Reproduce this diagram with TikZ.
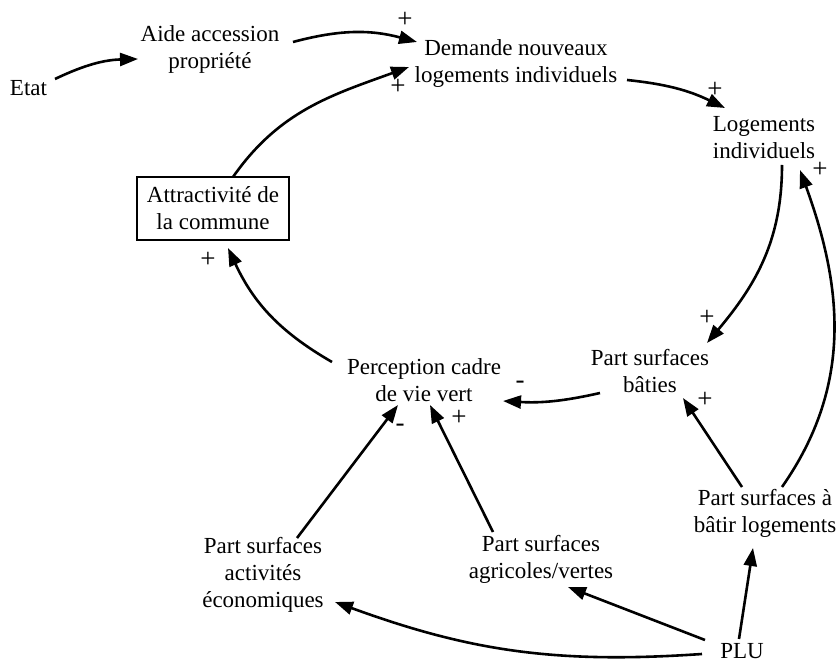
\documentclass[tikz,border=0pt]{standalone}
\usepackage{fontspec}
\setmainfont{Liberation Serif}
\usetikzlibrary{arrows.meta}
\begin{document}
\begin{tikzpicture}[x=1pt,y=1pt,
  lbl/.style={align=center,inner sep=0pt,font=\fontsize{23}{27}\selectfont},
  sgn/.style={inner sep=0pt,font=\fontsize{27}{28}\selectfont},
  link/.style={line width=2.6pt,-{Triangle[length=18pt,width=13pt]}}]
\useasboundingbox (0,0) rectangle (836,662);
\node[lbl] (etat) at (28.5,574) {Etat};
\node[lbl] (aide) at (210,613) {Aide accession\\propriété};
\node[lbl] (dem) at (516,598) {Demande nouveaux\\logements individuels};
\node[lbl] (loge) at (764,524.5) {Logements\\individuels};
\node[lbl,draw,line width=2pt,minimum width=152pt,minimum height=63pt] (attr) at (213,453.5) {Attractivité de\\la commune};
\node[lbl] (perc) at (424,282) {Perception cadre\\de vie vert};
\node[lbl] (bat) at (650,291) {Part surfaces\\bâties};
\node[lbl] (abatir) at (765,149) {Part surfaces à\\bâtir logements};
\node[lbl] (agri) at (541,103) {Part surfaces\\agricoles/vertes};
\node[lbl] (acti) at (263,87) {Part surfaces\\activités\\économiques};
\node[lbl] (plu) at (742,11) {PLU};

\draw[link] ([shift={(26.5,9)}]etat.center) to[bend left=12] ([shift={(-72,-10)}]aide.center);
\draw[link] ([shift={(83,7)}]aide.center) to[bend left=15] ([shift={(-99,22)}]dem.center);
\draw[link] ([shift={(20,31.5)}]attr.center) to[out=55,in=200] ([shift={(-107,-3)}]dem.center);
\draw[link] ([shift={(111,-16)}]dem.center) to[bend left=10] ([shift={(-39,29.5)}]loge.center);
\draw[link] ([shift={(18,-27.5)}]loge.center) to[out=-90,in=50] ([shift={(57,28)}]bat.center);
\draw[link] ([shift={(17,26)}]abatir.center) to[out=55,in=-70] ([shift={(36,-32.5)}]loge.center);
\draw[link] ([shift={(-23,26)}]abatir.center) -- ([shift={(33,-27)}]bat.center);
\draw[link] ([shift={(-50,-22)}]bat.center) to[bend left=8] ([shift={(79,-21)}]perc.center);
\draw[link] ([shift={(-92,18)}]perc.center) to[out=150,in=-65] ([shift={(15,-39.5)}]attr.center);
\draw[link] ([shift={(34,37)}]acti.center) -- ([shift={(-26,-25)}]perc.center);
\draw[link] ([shift={(-48,27)}]agri.center) -- ([shift={(6,-25)}]perc.center);
\draw[link] ([shift={(-40,-3)}]plu.center) to[bend left=12] ([shift={(72,-27)}]acti.center);
\draw[link] ([shift={(-37,11)}]plu.center) -- ([shift={(27,-28)}]agri.center);
\draw[link] ([shift={(-3,12)}]plu.center) -- ([shift={(-12,-35)}]abatir.center);

\node[sgn] (s1) at (405,642) {+};
\node[sgn] (s2) at (398,575) {+};
\node[sgn] (s3) at (715,572) {+};
\node[sgn] (s4) at (820,492) {+};
\node[sgn] (s5) at (707,344) {+};
\node[sgn] (s6) at (705,262) {+};
\node[sgn] (s7) at (520,277) {-};
\node[sgn] (s8) at (208,402) {+};
\node[sgn] (s9) at (400,234) {-};
\node[sgn] (s10) at (459,244) {+};
\end{tikzpicture}
\end{document}
